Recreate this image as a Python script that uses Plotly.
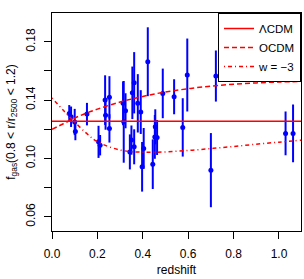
import plotly.graph_objects as go

# ---- data ----
z_obs = [0.076, 0.084, 0.100, 0.103, 0.154, 0.205, 0.212, 0.234, 0.236, 0.253, 0.253,
         0.313, 0.316, 0.324, 0.343, 0.350, 0.354, 0.362, 0.362, 0.378, 0.391, 0.397,
         0.404, 0.422, 0.444, 0.453, 0.455, 0.463, 0.488, 0.538, 0.576, 0.596, 0.700,
         0.722, 1.029, 1.062]
f_obs = [0.1309, 0.1286, 0.1250, 0.1185, 0.1304, 0.1114, 0.1091, 0.1400, 0.1297, 0.1419, 0.1206,
         0.1378, 0.1251, 0.1327, 0.1045, 0.1126, 0.1450, 0.1519, 0.1080, 0.1378, 0.1318, 0.0943,
         0.1069, 0.1663, 0.0961, 0.1148, 0.1217, 0.1144, 0.1446, 0.1423, 0.1213, 0.1572, 0.0920,
         0.1565, 0.1172, 0.1172]
f_err = [0.0057, 0.0070, 0.0090, 0.0060, 0.0077, 0.0110, 0.0070, 0.0170, 0.0100, 0.0145, 0.0097,
         0.0150, 0.0280, 0.0120, 0.0120, 0.0100, 0.0180, 0.0210, 0.0120, 0.0200, 0.0150, 0.0170,
         0.0140, 0.0236, 0.0170, 0.0150, 0.0120, 0.0120, 0.0170, 0.0120, 0.0200, 0.0250, 0.0254,
         0.0175, 0.0150, 0.0198]

curve_z = [0.0, 0.05, 0.1, 0.15, 0.2, 0.3, 0.4, 0.5, 0.6, 0.7, 0.8, 0.9, 1.0, 1.1]
lcdm_value = 0.1255
ocdm = [0.1200, 0.1238, 0.1277, 0.1310, 0.1338, 0.1387, 0.1425, 0.1456, 0.1478, 0.1496,
        0.1509, 0.1518, 0.1524, 0.1528]
w_m3 = [0.1415, 0.1330, 0.1250, 0.1175, 0.1115, 0.1058, 0.1043, 0.1045, 0.1055, 0.1068,
        0.1082, 0.1098, 0.1112, 0.1126]
lcdm = [lcdm_value for _ in curve_z]

x_tickvals = [0.0, 0.2, 0.4, 0.6, 0.8, 1.0]
x_ticktext = ["0.0", "0.2", "0.4", "0.6", "0.8", "1.0"]
y_tickvals = [0.06, 0.08, 0.10, 0.12, 0.14, 0.16, 0.18]
y_ticktext = ["0.06", " ", "0.10", " ", "0.14", " ", "0.18"]

FONT = "Liberation Sans, Arial, sans-serif"

fig = go.Figure()
fig.add_trace(go.Scatter(
    x=z_obs, y=f_obs, mode="markers", showlegend=False,
    marker=dict(color="#0000FF", size=5),
    error_y=dict(type="data", array=f_err, color="#0000FF", thickness=2, width=0),
))
fig.add_trace(go.Scatter(x=curve_z, y=lcdm, mode="lines", name="ΛCDM",
                         line=dict(color="#FF0000", width=1.5)))
fig.add_trace(go.Scatter(x=curve_z, y=ocdm, mode="lines", name="OCDM",
                         line=dict(color="#FF0000", width=1.5, dash="5px,3px", shape="spline")))
fig.add_trace(go.Scatter(x=curve_z, y=w_m3, mode="lines", name="w = −3",
                         line=dict(color="#FF0000", width=1.5, dash="1px,3px,4px,3px", shape="spline")))

axis_common = dict(showgrid=False, zeroline=False, showline=True, linecolor="black",
                   linewidth=1, mirror=True, ticks="outside", ticklen=7, tickcolor="black",
                   tickfont=dict(family=FONT, size=12, color="black"))

fig.update_xaxes(range=[0.0, 1.097], tickvals=x_tickvals, ticktext=x_ticktext,
                 title=dict(text="redshift", font=dict(family=FONT, size=12, color="black"),
                            standoff=5),
                 ticklabelstandoff=5, **axis_common)
fig.update_yaxes(range=[0.0503, 0.1997], tickvals=y_tickvals, ticktext=y_ticktext,
                 tickangle=-90,
                 title=dict(text="f<sub>gas</sub>(0.8 &lt; r/r<sub>2500</sub> &lt; 1.2)",
                            font=dict(family=FONT, size=12, color="black"), standoff=6),
                 ticklabelstandoff=4, **axis_common)

fig.update_layout(
    width=304, height=279,
    margin=dict(l=52, r=3, t=13, b=48, autoexpand=False),
    plot_bgcolor="white", paper_bgcolor="white",
    font=dict(family=FONT, size=12, color="black"),
    legend=dict(x=1, y=1, xanchor="right", yanchor="top", bgcolor="white",
                bordercolor="black", borderwidth=1, traceorder="normal",
                font=dict(family=FONT, size=11.5, color="black"),
                itemwidth=30, tracegroupgap=0),
)

fig.write_html("out.html", config={"displayModeBar": False},
               post_script="document.body.style.margin='0';document.body.style.padding='0';")
